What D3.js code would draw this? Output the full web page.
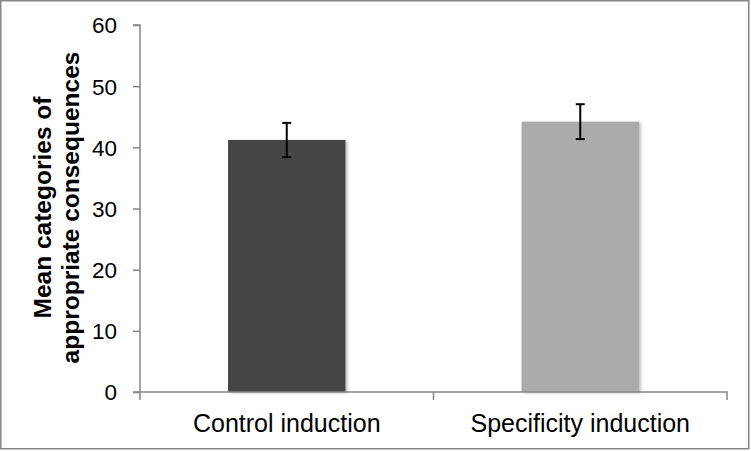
<!DOCTYPE html>
<html><head><meta charset="utf-8">
<script src="https://cdn.jsdelivr.net/npm/d3@7"></script>
<style>body{margin:0;background:#fff}svg{display:block;font-family:"Liberation Sans",Arial,sans-serif}</style>
</head><body>
<svg id="c" width="751" height="451"></svg>
<script>
const categories = ["Control induction", "Specificity induction"];
const means = [41.2, 44.2];
const errors = [2.8, 2.85];
const barColors = ["#454545", "#ababab"];
const yTicks = [0, 10, 20, 30, 40, 50, 60];
const yTitle = ["Mean categories of", "appropriate consequences"];

const svg = d3.select("#c");
const axisColor = "#868686";
svg.append("rect").attr("x", 0.75).attr("y", 0.75).attr("width", 748).attr("height", 448)
  .attr("fill", "#fff").attr("stroke", axisColor).attr("stroke-width", 1.5);

const x0 = 140, x1 = 727, yTop = 25, yBot = 392;
const x = d3.scaleBand().domain(categories).range([x0, x1]).paddingInner(0).paddingOuter(0);
const y = d3.scaleLinear().domain([0, 60]).range([yBot, yTop]);

const defs = svg.append("defs");
const f = defs.append("filter").attr("id", "sh").attr("x", "-10%").attr("y", "-10%").attr("width", "130%").attr("height", "130%");
f.append("feGaussianBlur").attr("in", "SourceAlpha").attr("stdDeviation", 1.5).attr("result", "b");
f.append("feOffset").attr("in", "b").attr("dx", 2).attr("dy", 1).attr("result", "o");
f.append("feComponentTransfer").attr("in", "o").attr("result", "o2").append("feFuncA").attr("type", "linear").attr("slope", 0.25);
const m = f.append("feMerge");
m.append("feMergeNode").attr("in", "o2");
m.append("feMergeNode").attr("in", "SourceGraphic");

// bars
const bw = x.bandwidth() * 0.40;
svg.selectAll(".bar").data(categories).enter().append("rect")
  .attr("x", d => x(d) + x.bandwidth() / 2 - bw / 2)
  .attr("y", (d, i) => y(means[i]))
  .attr("width", bw)
  .attr("height", (d, i) => yBot - y(means[i]))
  .attr("fill", (d, i) => barColors[i])
  .attr("filter", "url(#sh)");

// error bars
const eb = svg.append("g").attr("stroke", "#000").attr("stroke-width", 2);
categories.forEach((c, i) => {
  const cx = x(c) + x.bandwidth() / 2;
  const t = y(means[i] + errors[i]), b = y(means[i] - errors[i]);
  eb.append("line").attr("x1", cx).attr("x2", cx).attr("y1", t).attr("y2", b);
  eb.append("line").attr("x1", cx - 4.5).attr("x2", cx + 4.5).attr("y1", t).attr("y2", t);
  eb.append("line").attr("x1", cx - 4.5).attr("x2", cx + 4.5).attr("y1", b).attr("y2", b);
});

// y axis
const yAxis = d3.axisLeft(y).tickValues(yTicks).tickSize(7).tickPadding(16).tickFormat(d3.format("d"));
const gy = svg.append("g").attr("transform", `translate(${x0},0)`).call(yAxis);
gy.select(".domain").attr("stroke", axisColor).attr("stroke-width", 1.5).attr("d", `M-7,${yTop}H0V${yBot + 8}`);
gy.selectAll(".tick line").attr("stroke", axisColor).attr("stroke-width", 1.5);
gy.selectAll(".tick text").attr("fill", "#000").attr("dy", "0.35em").style("font-size", "22.5px").style("font-family", "Liberation Sans, Arial, sans-serif");

// x axis
const xAxis = d3.axisBottom(x).tickSize(0).tickPadding(0);
const gx = svg.append("g").attr("transform", `translate(0,${yBot})`).call(xAxis);
gx.select(".domain").attr("stroke", axisColor).attr("stroke-width", 1.5).attr("d", `M${x0 - 7},0H${x1}V8`);
gx.selectAll(".tick text").attr("fill", "#000").attr("y", 40).attr("dy", 0).style("font-size", "25px").style("font-family", "Liberation Sans, Arial, sans-serif");
// category boundary tick
gx.append("line").attr("x1", x(categories[1])).attr("x2", x(categories[1])).attr("y1", 0).attr("y2", 8)
  .attr("stroke", axisColor).attr("stroke-width", 1.5);

// y title
const tt = svg.append("text").attr("transform", `translate(51,${(yTop + yBot) / 2 - 1}) rotate(-90)`)
  .attr("text-anchor", "middle").style("font-size", "24.5px").style("font-weight", "bold").attr("fill", "#000");
yTitle.forEach((s, i) => tt.append("tspan").attr("x", 0).attr("dy", i === 0 ? 0 : 28).text(s));
</script>
</body></html>
